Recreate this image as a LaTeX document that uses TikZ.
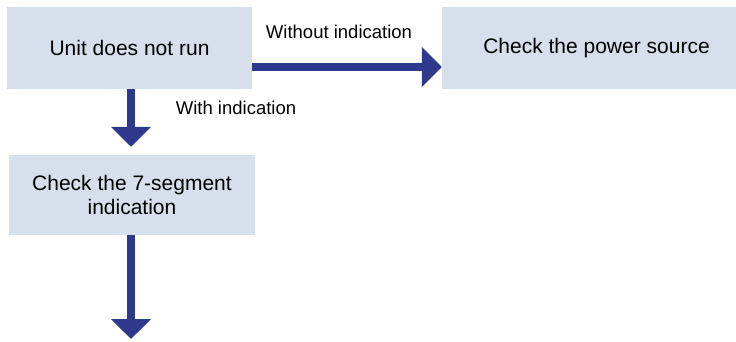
\documentclass[tikz,border=0pt]{standalone}
\usepackage{fontspec}
\setmainfont{Liberation Sans}
\usetikzlibrary{arrows.meta}
\definecolor{boxfill}{RGB}{214,223,235}
\definecolor{flowblue}{RGB}{46,57,140}
\begin{document}
\begin{tikzpicture}[x=1pt,y=-1pt,
  stepbox/.style={fill=boxfill, draw=none, inner sep=0pt, align=center,
    font=\fontsize{21}{23.5}\selectfont},
  flow/.style={draw=flowblue, line width=8.5pt,
    -{Triangle[length=20pt,width=39pt]}},
  edgelabel/.style={font=\fontsize{18.5}{21}\selectfont, inner sep=0pt}]
  \useasboundingbox (0,0) rectangle (736,342);
  % process boxes
  \node[stepbox, minimum width=245pt, minimum height=82pt] (run) at (129.5,48) {Unit does not run};
  \node[stepbox, minimum width=309pt, minimum height=82pt] (power) at (596.5,48) {Check the power source};
  \node[stepbox, minimum width=246pt, minimum height=80pt] (seg) at (132,195) {Check the 7-segment\\indication};
  \coordinate (next) at (131,339);
  % connectors
  \draw[flow] ([yshift=-19pt]run.east) -- ([yshift=-19pt]power.west);
  \draw[flow, shorten >=8pt] (run.south -| next) -- (seg.north -| next);
  \draw[flow] (seg.south -| next) -- (next);
  % branch labels
  \node[edgelabel] (lblno) at (339,32) {Without indication};
  \node[edgelabel] (lblyes) at (236,108) {With indication};
\end{tikzpicture}
\end{document}
